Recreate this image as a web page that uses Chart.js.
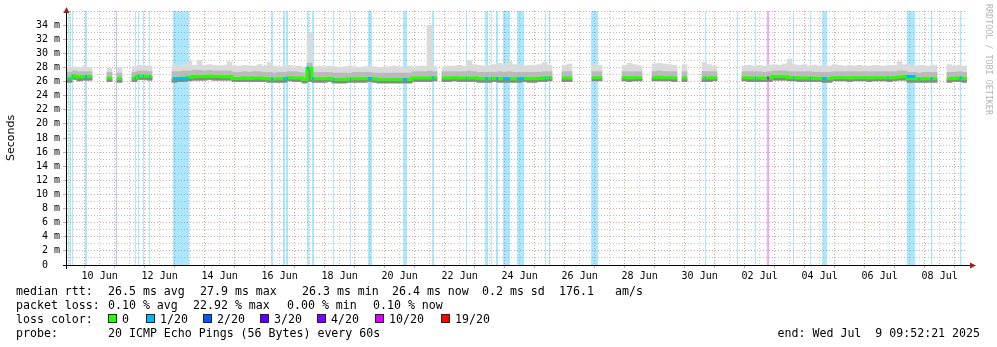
<!DOCTYPE html>
<html>
<head>
<meta charset="utf-8">
<script src="https://cdn.jsdelivr.net/npm/chart.js@4.4.0/dist/chart.umd.min.js"></script>
<style>
  html, body { margin: 0; padding: 0; background: #fff; }
  #caixa { width: 997px; height: 347px; }
</style>
</head>
<body>
<div id="caixa"><canvas id="grafico-ping" width="997" height="347"></canvas></div>
<script>
// eixo x em horas contadas a partir de 09 Jun 00:00
var inicio = 9 + 52 / 60 + 21 / 3600; // 09 Jun 09:52:21
var fim = inicio + 30 * 24;           // 09 Jul 09:52:21
var passo = 4;                        // cada coluna = 4 horas
var topoY = 36;                       // ms

var rotulosDias = ["10 Jun", "12 Jun", "14 Jun", "16 Jun", "18 Jun", "20 Jun", "22 Jun", "24 Jun",
  "26 Jun", "28 Jun", "30 Jun", "02 Jul", "04 Jul", "06 Jul", "08 Jul"];

// mediana do rtt (ms) por coluna, null = sem dados
var mediana = [
  26.4, 26.8, 26.65, 26.7, 26.7, null, null, null, 26.5, null,
  26.4, null, null, 26.5, 26.8, 26.75, 26.7, null, null, null,
  null, 26.4, 26.45, 26.5, 26.6, 26.7, 26.7, 26.7, 26.75, 26.7,
  26.7, 26.65, 26.7, 26.45, 26.45, 26.5, 26.45, 26.5, 26.5, 26.45,
  26.35, 26.35, 26.4, 26.4, 26.55, 26.5, 26.5, 26.3, 27.9, 26.4,
  26.4, 26.4, 26.45, 26.3, 26.3, 26.3, 26.35, 26.4, 26.4, 26.4,
  26.45, 26.35, 26.3, 26.3, 26.3, 26.3, 26.3, 26.3, 26.3, 26.5,
  26.5, 26.5, 26.5, 26.55, null, 26.5, 26.5, 26.55, 26.5, 26.5,
  26.5, 26.5, 26.4, 26.4, 26.4, 26.45, 26.4, 26.4, 26.4, 26.35,
  26.4, 26.45, 26.4, 26.4, 26.45, 26.5, 26.55, null, null, 26.5,
  26.5, null, null, null, null, 26.55, 26.55, null, null, null,
  null, 26.55, 26.5, 26.55, 26.55, null, null, 26.55, 26.6, 26.55,
  26.55, 26.5, null, 26.5, null, null, null, 26.5, 26.5, 26.55,
  null, null, null, null, null, 26.55, 26.5, 26.5, 26.5, 26.45,
  26.5, 26.7, 26.7, 26.7, 26.55, 26.55, 26.5, 26.5, 26.5, 26.45,
  26.45, 26.4, 26.4, 26.55, 26.55, 26.55, 26.5, 26.55, 26.55, 26.55,
  26.5, 26.55, 26.55, 26.55, 26.5, 26.55, 26.65, 26.7, 26.4, 26.4,
  26.35, 26.4, 26.4, 26.4, null, null, 26.4, 26.45, 26.5, 26.4
];

// fumaca: ping mais baixo, topo da faixa media e ping mais alto
var pingMin = [
  25.9, 26.3, 26.1, 26.2, 26.2, null, null, null, 26.0, null,
  25.9, null, null, 26.0, 26.3, 26.3, 26.2, null, null, null,
  null, 25.9, 26.0, 26.0, 26.1, 26.2, 26.2, 26.2, 26.3, 26.2,
  26.2, 26.2, 26.2, 26.0, 26.0, 26.0, 26.0, 26.0, 26.0, 26.0,
  25.9, 25.9, 25.9, 25.9, 26.1, 26.0, 26.0, 25.8, 26.0, 25.9,
  25.9, 25.9, 26.0, 25.8, 25.8, 25.8, 25.9, 25.9, 25.9, 25.9,
  26.0, 25.9, 25.8, 25.8, 25.8, 25.8, 25.8, 25.8, 25.8, 26.0,
  26.0, 26.0, 26.0, 26.1, null, 26.0, 26.0, 26.1, 26.0, 26.0,
  26.0, 26.0, 25.9, 25.9, 25.9, 26.0, 25.9, 25.9, 25.9, 25.9,
  25.9, 26.0, 25.9, 25.9, 26.0, 26.0, 26.1, null, null, 26.0,
  26.0, null, null, null, null, 26.1, 26.1, null, null, null,
  null, 26.1, 26.0, 26.1, 26.1, null, null, 26.1, 26.1, 26.1,
  26.1, 26.0, null, 26.0, null, null, null, 26.0, 26.0, 26.1,
  null, null, null, null, null, 26.1, 26.0, 26.0, 26.0, 26.0,
  26.0, 26.2, 26.2, 26.2, 26.1, 26.1, 26.0, 26.0, 26.0, 26.0,
  26.0, 25.9, 25.9, 26.1, 26.1, 26.1, 26.0, 26.1, 26.1, 26.1,
  26.0, 26.1, 26.1, 26.1, 26.0, 26.1, 26.2, 26.2, 25.9, 25.9,
  25.9, 25.9, 25.9, 25.9, null, null, 25.9, 26.0, 26.0, 25.9
];

var pingAlto = [
  27.3, 27.5, 27.4, 27.4, 27.4, null, null, null, 27.3, null,
  27.2, null, null, 27.3, 27.5, 27.5, 27.4, null, null, null,
  null, 27.4, 27.4, 27.5, 27.5, 27.6, 27.6, 27.5, 27.6, 27.5,
  27.5, 27.5, 27.5, 27.3, 27.3, 27.4, 27.3, 27.4, 27.4, 27.3,
  27.3, 27.2, 27.3, 27.3, 27.4, 27.4, 27.3, 27.2, 28.6, 27.3,
  27.3, 27.3, 27.3, 27.2, 27.2, 27.2, 27.2, 27.3, 27.3, 27.3,
  27.3, 27.2, 27.2, 27.2, 27.2, 27.2, 27.2, 27.2, 27.2, 27.4,
  27.4, 27.4, 27.5, 27.4, null, 27.4, 27.4, 27.4, 27.4, 27.4,
  27.5, 27.4, 27.3, 27.3, 27.3, 27.3, 27.4, 27.3, 27.4, 27.3,
  27.3, 27.3, 27.3, 27.3, 27.3, 27.4, 27.4, null, null, 27.4,
  27.4, null, null, null, null, 27.4, 27.4, null, null, null,
  null, 27.4, 27.4, 27.4, 27.4, null, null, 27.4, 27.5, 27.4,
  27.4, 27.4, null, 27.4, null, null, null, 27.4, 27.4, 27.4,
  null, null, null, null, null, 27.4, 27.4, 27.4, 27.4, 27.3,
  27.4, 27.5, 27.5, 27.5, 27.4, 27.4, 27.4, 27.4, 27.4, 27.3,
  27.3, 27.3, 27.3, 27.4, 27.4, 27.4, 27.4, 27.4, 27.4, 27.4,
  27.4, 27.4, 27.4, 27.4, 27.4, 27.4, 27.5, 27.5, 27.3, 27.3,
  27.2, 27.3, 27.3, 27.3, null, null, 27.3, 27.3, 27.4, 27.3
];

var pingMax = [
  28.0, 28.1, 28.0, 28.1, 28.0, null, null, null, 27.9, null,
  28.0, null, null, 28.1, 28.3, 28.2, 28.2, null, null, null,
  null, 28.3, 28.2, 28.4, 28.9, 28.3, 29.0, 28.3, 28.4, 28.3,
  28.2, 28.3, 28.8, 28.2, 28.2, 28.3, 28.2, 28.2, 28.4, 28.2,
  28.7, 28.2, 28.1, 28.2, 28.3, 28.1, 28.2, 28.0, 32.9, 28.1,
  28.2, 28.1, 28.2, 28.1, 28.0, 28.1, 28.2, 28.1, 28.0, 28.1,
  28.2, 28.1, 28.0, 28.1, 28.1, 28.2, 28.1, 28.0, 28.2, 28.1,
  28.2, 28.2, 34.0, 28.1, null, 28.1, 28.2, 28.2, 28.3, 28.2,
  29.0, 28.4, 28.3, 28.2, 28.3, 28.4, 28.6, 28.3, 28.9, 28.4,
  28.3, 28.2, 28.3, 28.2, 28.4, 28.7, 28.3, null, null, 28.3,
  28.5, null, null, null, null, 28.4, 28.3, null, null, null,
  null, 28.3, 28.6, 28.4, 28.2, null, null, 28.5, 28.6, 28.5,
  28.4, 28.3, null, 28.4, null, null, null, 28.7, 28.4, 28.2,
  null, null, null, null, null, 28.2, 28.3, 28.2, 28.3, 28.2,
  28.3, 28.4, 28.3, 28.5, 29.2, 28.4, 28.3, 28.4, 28.2, 28.3,
  28.2, 28.3, 28.2, 28.4, 28.3, 28.2, 28.3, 28.2, 28.3, 28.2,
  28.2, 28.3, 28.2, 28.2, 28.3, 28.2, 28.8, 28.4, 28.3, 28.2,
  28.3, 28.2, 28.2, 28.3, null, null, 28.4, 28.2, 28.3, 28.2
];

// periodos com perda de pacotes (horas) e nivel (indice em coresPerda)
var perdaInicio = [10.7, 12.3, 13.9, 24.3, 49.1, 64.3, 66.7, 70.7, 75.5, 94.7,
  173.1, 182.7, 185.1, 201.9, 205.9, 222.7, 236.3, 250.7, 278.7, 301.9,
  329.1, 344.3, 349.1, 353.1, 358.7, 369.9, 392.3, 395.5, 429.1, 520.3,
  545.9, 560.3, 569.9, 590.7, 604.3, 613.9, 666.3, 681.5, 691.1, 700.7, 723.9];
var perdaFim = [11.5, 13.1, 14.7, 25.9, 49.9, 65.1, 67.5, 71.5, 76.3, 107.5,
  174.7, 184.3, 186.7, 203.5, 207.5, 223.5, 237.1, 253.9, 281.9, 303.5,
  329.9, 346.7, 349.9, 354.7, 364.3, 375.5, 393.1, 396.3, 434.7, 521.1,
  546.7, 561.1, 571.5, 591.5, 605.1, 617.9, 667.1, 688.7, 691.9, 702.3, 725.5];
var perdaNivel = [1, 1, 1, 1, 2, 1, 1, 1, 1, 1,
  1, 1, 1, 1, 1, 1, 1, 1, 1, 1,
  1, 1, 1, 1, 1, 1, 1, 1, 1, 1,
  1, 1, 5, 1, 1, 1, 1, 1, 1, 1, 1];

var nomesPerda = ["0", "1/20", "2/20", "3/20", "4/20", "10/20", "19/20"];
var coresPerda = ["#26ff00", "#00b8ff", "#0059ff", "#5e00ff", "#7e00ff", "#dd00ff", "#ff0000"];
var coresFaixa = { 1: "rgba(0, 184, 255, 0.33)", 2: "rgba(0, 89, 255, 0.33)", 5: "rgba(221, 0, 255, 0.35)" };

var gradeMaior = "rgba(205, 120, 120, 0.7)";
var gradeMenor = "rgba(150, 150, 150, 0.55)";
var corSeta = "#9c2222";

function colunas(inferior, superior) {
  var pontos = [];
  for (var i = 0; i < superior.length; i++) {
    if (superior[i] === null) continue;
    pontos.push({ x: inicio + passo * i + passo / 2, y: [inferior[i], superior[i]] });
  }
  return pontos;
}

function linhaMediana() {
  var pontos = [];
  for (var i = 0; i < mediana.length; i++) {
    if (mediana[i] === null) continue;
    var x = inicio + passo * i;
    pontos.push({ x: x, y: mediana[i] });
    if (i === mediana.length - 1 || mediana[i + 1] === null) {
      pontos.push({ x: x + passo, y: mediana[i] });
      pontos.push({ x: x + passo, y: null });
    }
  }
  return pontos;
}

function medianaEm(h) {
  var i = Math.floor((h - inicio) / passo);
  return i >= 0 && i < mediana.length ? mediana[i] : null;
}

function faixasPerda(nivel) {
  var pontos = [];
  for (var i = 0; i < perdaInicio.length; i++) {
    if (perdaNivel[i] !== nivel) continue;
    pontos.push({ x: perdaInicio[i], y: topoY });
    pontos.push({ x: perdaFim[i], y: topoY });
    pontos.push({ x: perdaFim[i], y: null });
  }
  return pontos;
}

function marcasPerda(nivel) {
  var pontos = [];
  for (var i = 0; i < perdaInicio.length; i++) {
    if (perdaNivel[i] !== nivel) continue;
    var m = medianaEm(perdaInicio[i]);
    if (m === null) continue;
    pontos.push({ x: perdaInicio[i], y: m });
    pontos.push({ x: perdaFim[i], y: m });
    pontos.push({ x: perdaFim[i], y: null });
  }
  return pontos;
}

var conjuntos = [];
[1, 2, 5].forEach(function (nivel) {
  conjuntos.push({
    type: "line", data: faixasPerda(nivel), backgroundColor: coresFaixa[nivel],
    borderWidth: 0, pointRadius: 0, fill: "origin", order: 10,
  });
});
function camada(inferior, superior, cor, ordem) {
  return {
    type: "bar", data: colunas(inferior, superior), backgroundColor: cor, borderWidth: 0,
    grouped: false, barPercentage: 1, categoryPercentage: 1, order: ordem,
  };
}
conjuntos.push(camada(pingMin, pingMax, "#dadada", 6));
conjuntos.push(camada(pingMin, pingAlto, "#bababa", 5));
conjuntos.push(camada(pingMin, mediana, "#878787", 4));
conjuntos.push({
  type: "line", data: linhaMediana(), borderColor: coresPerda[0], borderWidth: 3,
  stepped: true, pointRadius: 0, fill: false, borderCapStyle: "butt", order: 2,
});
[1, 2, 5].forEach(function (nivel) {
  conjuntos.push({
    type: "line", data: marcasPerda(nivel), borderColor: coresPerda[nivel], borderWidth: 3,
    pointRadius: 0, fill: false, borderCapStyle: "butt", order: 1,
  });
});

// eixos com setas, titulo vertical e legenda de texto abaixo do grafico
var moldura = {
  id: "moldura",
  afterDraw: function (chart) {
    var ctx = chart.ctx;
    var area = chart.chartArea;
    var ex = area.left - 0.5;
    var ey = area.bottom + 0.5;
    ctx.save();

    ctx.strokeStyle = "#000";
    ctx.lineWidth = 1;
    ctx.beginPath();
    ctx.moveTo(area.left - 4, ey);
    ctx.lineTo(area.right + 5, ey);
    ctx.moveTo(ex, area.bottom + 4);
    ctx.lineTo(ex, area.top - 3);
    ctx.stroke();

    ctx.fillStyle = corSeta;
    ctx.beginPath();
    ctx.moveTo(area.right + 9, ey);
    ctx.lineTo(area.right + 3, ey - 3);
    ctx.lineTo(area.right + 3, ey + 3);
    ctx.closePath();
    ctx.fill();
    ctx.beginPath();
    ctx.moveTo(ex, area.top - 4);
    ctx.lineTo(ex - 3, area.top + 2);
    ctx.lineTo(ex + 3, area.top + 2);
    ctx.closePath();
    ctx.fill();

    // titulo do eixo y
    ctx.save();
    ctx.translate(11, (area.top + area.bottom) / 2);
    ctx.rotate(-Math.PI / 2);
    ctx.fillStyle = "#000";
    ctx.font = '11px "DejaVu Sans"';
    ctx.textAlign = "center";
    ctx.textBaseline = "middle";
    ctx.fillText("Seconds", 0, 0);
    ctx.restore();

    ctx.save();
    ctx.translate(988, 4);
    ctx.rotate(Math.PI / 2);
    ctx.fillStyle = "#b4b4b4";
    ctx.font = '8.4px "DejaVu Sans Mono"';
    ctx.textAlign = "left";
    ctx.textBaseline = "middle";
    ctx.fillText("RRDTOOL / TOBI OETIKER", 0, 0);
    ctx.restore();

    // legenda
    ctx.font = '11.6px "DejaVu Sans Mono"';
    ctx.fillStyle = "#000";
    ctx.textBaseline = "alphabetic";
    ctx.textAlign = "left";
    var linhas = [
      [295, [["median rtt:", 16], ["26.5 ms avg", 108], ["27.9 ms max", 200], ["26.3 ms min", 302],
        ["26.4 ms now", 392], ["0.2 ms sd", 482], ["176.1", 559], ["am/s", 615]]],
      [309, [["packet loss:", 16], ["0.10 % avg", 108], ["22.92 % max", 193], ["0.00 % min", 287],
        ["0.10 % now", 373]]],
      [323, [["loss color:", 16]]],
      [337, [["probe:", 16], ["20 ICMP Echo Pings (56 Bytes) every 60s", 108]]],
    ];
    linhas.forEach(function (l) {
      l[1].forEach(function (t) { ctx.fillText(t[0], t[1], l[0]); });
    });

    var xCaixas = [108, 146, 203, 260, 317, 375, 441];
    for (var i = 0; i < nomesPerda.length; i++) {
      ctx.fillStyle = coresPerda[i];
      ctx.fillRect(xCaixas[i], 314, 9, 9);
      ctx.strokeStyle = "#222";
      ctx.strokeRect(xCaixas[i] + 0.5, 314.5, 8, 8);
      ctx.fillStyle = "#000";
      ctx.fillText(nomesPerda[i], xCaixas[i] + 14, 323);
    }

    ctx.textAlign = "right";
    ctx.fillText("end: Wed Jul  9 09:52:21 2025", 980, 337);
    ctx.restore();
  },
};

var fonteEixo = { family: '"DejaVu Sans Mono", monospace', size: 10 };

var graf = document.getElementById("grafico-ping").getContext("2d");
var grafico = new Chart(graf, {
  type: "bar",
  data: { datasets: conjuntos },
  options: {
    responsive: false,
    animation: false,
    events: [],
    layout: { padding: { left: 0, right: 30, top: 11, bottom: 0 } },
    plugins: { legend: { display: false }, tooltip: { enabled: false } },
    scales: {
      x: {
        type: "linear",
        min: inicio,
        max: fim,
        offset: false,
        afterFit: function (escala) { escala.height = 82; },
        afterBuildTicks: function (escala) {
          var lista = [];
          for (var h = 12; h < fim; h += 12) lista.push({ value: h });
          escala.ticks = lista;
        },
        ticks: {
          autoSkip: false,
          maxRotation: 0,
          minRotation: 0,
          padding: 2,
          color: "#000",
          font: fonteEixo,
          callback: function (v) {
            if ((v - 36) % 48 === 0) return rotulosDias[(v - 36) / 48] || "";
            return "";
          },
        },
        grid: {
          offset: false,
          lineWidth: 1,
          tickLength: 3,
          color: function (c) { return c.tick && c.tick.value % 24 === 0 ? gradeMaior : gradeMenor; },
          tickColor: function (c) { return c.tick && c.tick.value % 24 === 0 ? gradeMaior : "rgba(0,0,0,0)"; },
        },
        border: { display: false, dash: [1, 2] },
      },
      y: {
        type: "linear",
        min: 0,
        max: topoY,
        afterFit: function (escala) { escala.width = 67; },
        ticks: {
          stepSize: 1,
          autoSkip: false,
          padding: 3,
          color: "#000",
          font: fonteEixo,
          callback: function (v) {
            if (v === 0) return "0  ";
            if (v % 2 === 0 && v < topoY) return v + " m";
            return "";
          },
        },
        grid: {
          lineWidth: 1,
          tickLength: 4,
          color: function (c) {
            if (!c.tick || c.tick.value === 0) return "rgba(0,0,0,0)";
            return c.tick.value % 2 === 0 ? gradeMaior : gradeMenor;
          },
          tickColor: function (c) { return c.tick && c.tick.value % 2 === 0 ? gradeMaior : "rgba(0,0,0,0)"; },
        },
        border: { display: false, dash: [1, 2] },
      },
    },
  },
  plugins: [moldura],
});
</script>
</body>
</html>
